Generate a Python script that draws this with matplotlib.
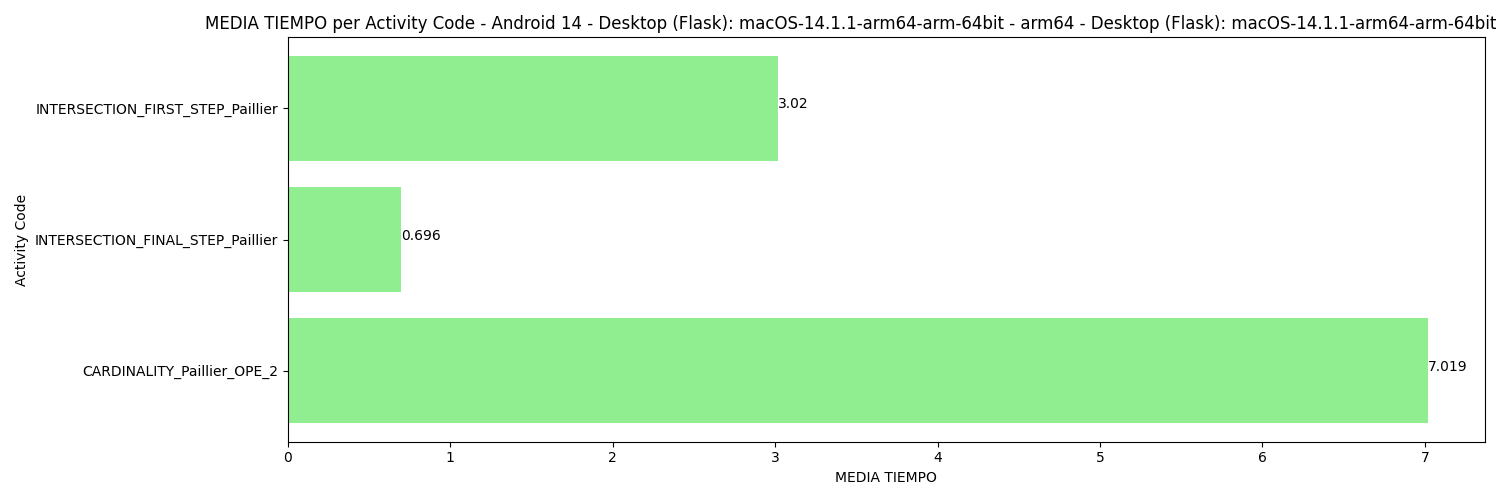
import matplotlib
matplotlib.use("Agg")
import matplotlib.pyplot as plt

activity_codes = [
    "CARDINALITY_Paillier_OPE_2",
    "INTERSECTION_FINAL_STEP_Paillier",
    "INTERSECTION_FIRST_STEP_Paillier",
]
media_tiempo = [7.019, 0.696, 3.02]

title = ("MEDIA TIEMPO per Activity Code - Android 14 - Desktop (Flask): "
         "macOS-14.1.1-arm64-arm-64bit - arm64 - Desktop (Flask): "
         "macOS-14.1.1-arm64-arm-64bit")

fig, ax = plt.subplots(figsize=(15, 5), dpi=100)
ax.barh(activity_codes, media_tiempo, color="lightgreen")
for i, v in enumerate(media_tiempo):
    ax.text(v, i, str(v))
ax.set_xlabel("MEDIA TIEMPO")
ax.set_ylabel("Activity Code")
# long title shifted left so it stays inside the figure
ax.set_title(title, x=0.4705)
fig.tight_layout()
fig.savefig("out.png")
